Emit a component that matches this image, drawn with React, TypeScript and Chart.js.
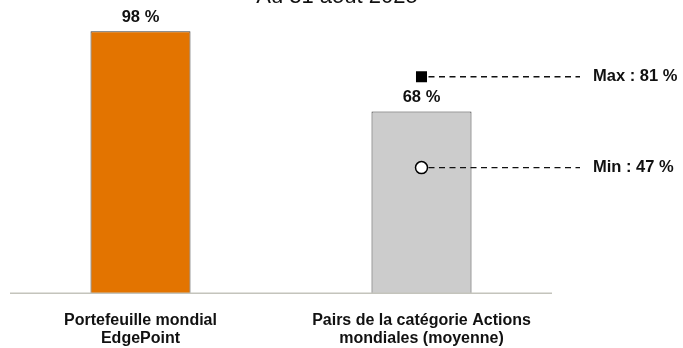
import React, { useEffect, useRef } from "react";
import { Chart, registerables } from "chart.js";

Chart.register(...registerables);

const titleText = "Au 31 août 2025";
const categories: string[][] = [
  ["Portefeuille mondial", "EdgePoint"],
  ["Pairs de la catégorie Actions", "mondiales (moyenne)"],
];
const values = [98, 68];
const barColors = ["#E37400", "#CCCCCC"];
const maxValues = [null, 81];
const minValues = [null, 47];
const FONT = "'Liberation Sans', Arial, Helvetica, sans-serif";

const annotPlugin = {
  id: "annot",
  afterDatasetsDraw(chart: any) {
    const ctx = chart.ctx;
    const x = chart.scales.x;
    const y = chart.scales.y;
    ctx.save();
    // baseline
    ctx.strokeStyle = "#C4C4BC";
    ctx.lineWidth = 1.5;
    ctx.beginPath();
    ctx.moveTo(chart.chartArea.left + 10, y.getPixelForValue(0));
    ctx.lineTo(chart.chartArea.right - 10, y.getPixelForValue(0));
    ctx.stroke();

    // value labels
    ctx.fillStyle = "#111";
    ctx.font = `bold 16.5px ${FONT}`;
    ctx.textAlign = "center";
    ctx.textBaseline = "alphabetic";
    values.forEach((v, i) => {
      ctx.fillText(`${v} %`, x.getPixelForValue(i), y.getPixelForValue(v) - 9.5);
    });

    // min / max dashed lines and labels
    const drawRef = (arr: (number | null)[], prefix: string) => {
      arr.forEach((v, i) => {
        if (v == null) return;
        const px = x.getPixelForValue(i);
        const py = y.getPixelForValue(v);
        ctx.strokeStyle = "#111";
        ctx.lineWidth = 1.3;
        ctx.setLineDash([6, 4.5]);
        ctx.beginPath();
        ctx.moveTo(px + 7, py);
        ctx.lineTo(580, py);
        ctx.stroke();
        ctx.setLineDash([]);
        ctx.fillStyle = "#111";
        ctx.font = `bold 16.5px ${FONT}`;
        ctx.textAlign = "left";
        ctx.textBaseline = "middle";
        ctx.fillText(`${prefix} : ${v} %`, 593, py);
      });
    };
    drawRef(maxValues, "Max");
    drawRef(minValues, "Min");

    // title (clipped at top)
    ctx.fillStyle = "#111";
    ctx.font = `22px ${FONT}`;
    ctx.textAlign = "center";
    ctx.textBaseline = "alphabetic";
    ctx.fillText(titleText, 337, 3);
    ctx.restore();
  },
};

export default function App() {
  const ref = useRef<HTMLCanvasElement>(null);
  useEffect(() => {
    if (!ref.current) return;
    const chart = new Chart(ref.current, {
      type: "bar",
      data: {
        labels: categories,
        datasets: [
          {
            type: "bar",
            data: values,
            backgroundColor: barColors,
            borderColor: "#3A3A3A",
            borderWidth: 1,
            categoryPercentage: 1,
            barPercentage: 100 / 281,
            order: 2,
          },
          {
            type: "line",
            data: maxValues as any,
            showLine: false,
            pointStyle: "rect",
            pointRadius: 7.8,
            pointBackgroundColor: "#000",
            pointBorderColor: "#000",
            pointBorderWidth: 0,
            order: 1,
          },
          {
            type: "line",
            data: minValues as any,
            showLine: false,
            pointStyle: "circle",
            pointRadius: 6,
            pointBackgroundColor: "#fff",
            pointBorderColor: "#000",
            pointBorderWidth: 1.5,
            order: 0,
          },
        ],
      },
      options: {
        animation: false,
        responsive: false,
        layout: { autoPadding: false, padding: { top: 26, left: 0, right: 121, bottom: -18 } },
        plugins: {
          legend: { display: false },
          tooltip: { enabled: false },
          title: { display: false },
        },
        scales: {
          x: {
            grid: { display: false, drawTicks: false },
            border: { display: false },
            ticks: {
              color: "#111",
              padding: 18,
              font: { family: FONT, size: 16, weight: "bold", lineHeight: 1.15 },
            },
          },
          y: { display: false, min: 0, max: 100 },
        },
      },
      plugins: [annotPlugin],
    });
    return () => chart.destroy();
  }, []);
  return (
    <div style={{ position: "absolute", left: 0, top: 0, width: 683, height: 348 }}>
      <canvas ref={ref} width={683} height={348} style={{ width: 683, height: 348 }} />
    </div>
  );
}
